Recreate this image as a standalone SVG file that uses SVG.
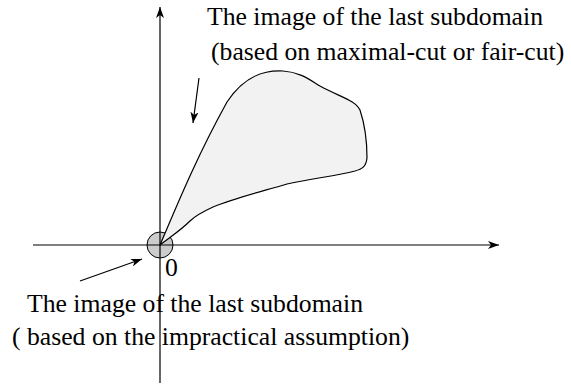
<svg xmlns="http://www.w3.org/2000/svg" width="571" height="386" viewBox="0 0 571 386">
<style>
.t{font-family:"Liberation Serif","Times New Roman",serif;font-size:25.7px;fill:#000}
.ln{stroke:#000;stroke-width:1.2;fill:none}
</style>
<defs>
<marker id="ah" markerWidth="12" markerHeight="8" refX="11" refY="4" orient="auto" markerUnits="userSpaceOnUse">
<path d="M0,0 L11,4 L0,8 L3,4 Z" fill="#000"/>
</marker>
</defs>
<rect width="571" height="386" fill="#fff"/>
<g id="region-impractical">
<circle cx="160" cy="245" r="13" fill="#cccccc" stroke="#000" stroke-width="1"/>
</g>
<g id="region-fair">
<path d="M160,245 C175,210 195,160 227,102 C245,75 265,70 283,71 C300,72 310,80 320,86 C340,97 355,100 360,110 C365,125 367,145 367,158 C366,167 362,169 355,171 C335,176 315,178 287,184 C260,192 235,198 213,207 C200,213 195,216 190,221 C180,231 170,237 160,245 Z" fill="#f2f2f2" stroke="#000" stroke-width="1.2"/>
</g>
<g id="connectors">
<line class="ln" x1="160" y1="383" x2="160" y2="7" marker-end="url(#ah)"/>
<line class="ln" x1="33" y1="245" x2="499" y2="245" marker-end="url(#ah)"/>
<line class="ln" x1="199" y1="78" x2="193" y2="123" marker-end="url(#ah)"/>
<line class="ln" x1="80" y1="281" x2="142" y2="259" marker-end="url(#ah)"/>
</g>
<g id="labels">
<text class="t" x="207" y="25">The image of the last subdomain</text>
<text class="t" x="211" y="60">(based on maximal-cut or fair-cut)</text>
<text class="t" x="165" y="276">0</text>
<text class="t" x="27" y="312">The image of the last subdomain</text>
<text class="t" x="12" y="345">( based on the impractical assumption)</text>
</g>
</svg>
